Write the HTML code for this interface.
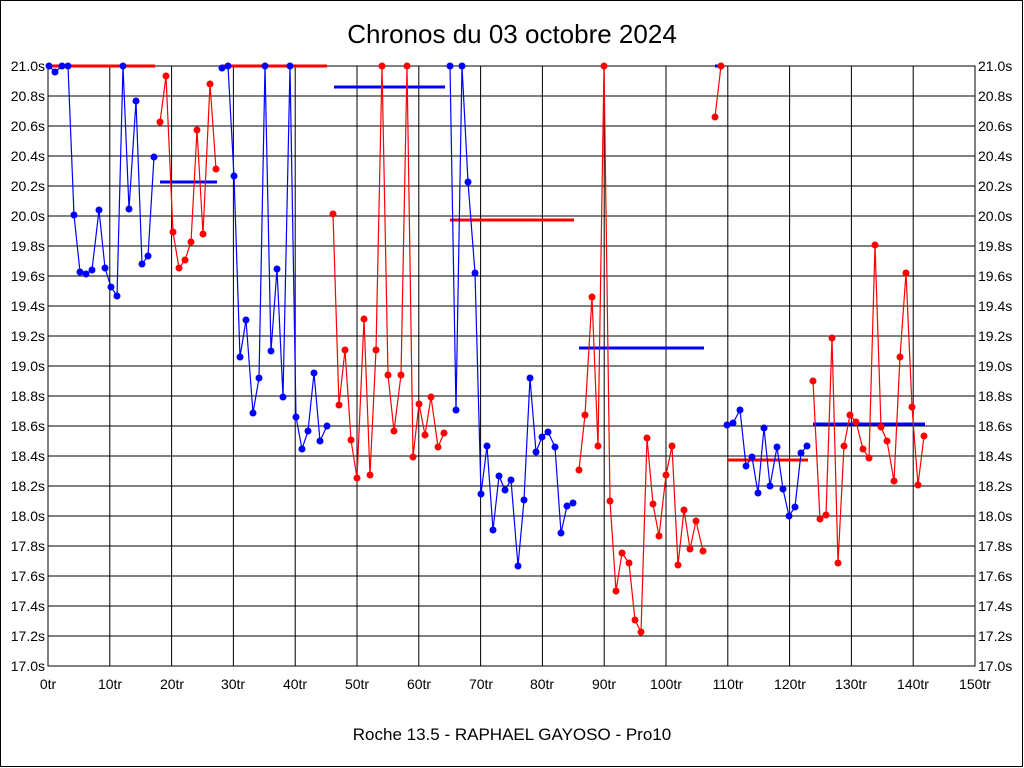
<!DOCTYPE html>
<html><head><meta charset="utf-8"><style>
html,body{margin:0;padding:0;background:#fff}
svg{display:block}
text{font-family:"Liberation Sans",sans-serif;fill:#000}
</style></head><body>
<svg id="s" width="1024" height="768" viewBox="0 0 1024 768" xmlns="http://www.w3.org/2000/svg">
<rect x="0.5" y="0.5" width="1022" height="766" fill="#fff" stroke="#000" stroke-width="1"/>
<text x="512" y="43" font-size="26" text-anchor="middle">Chronos du 03 octobre 2024</text>
<text x="512" y="740" font-size="17" text-anchor="middle">Roche 13.5 - RAPHAEL GAYOSO - Pro10</text>
<g stroke="#000" stroke-width="1" fill="none">
<path d="M109.8 66V666M171.6 66V666M233.4 66V666M295.2 66V666M357 66V666M418.8 66V666M480.6 66V666M542.4 66V666M604.2 66V666M666 66V666M727.8 66V666M789.6 66V666M851.4 66V666M913.2 66V666
M48 96H975M48 126H975M48 156H975M48 186H975M48 216H975M48 246H975M48 276H975M48 306H975M48 336H975M48 366H975M48 396H975M48 426H975M48 456H975M48 486H975M48 516H975M48 546H975M48 576H975M48 606H975M48 636H975"/>
<rect x="48" y="66" width="927" height="600"/>
</g>
<g font-size="14" text-anchor="end">
<text x="45" y="71">21.0s</text><text x="45" y="101">20.8s</text><text x="45" y="131">20.6s</text><text x="45" y="161">20.4s</text><text x="45" y="191">20.2s</text><text x="45" y="221">20.0s</text><text x="45" y="251">19.8s</text><text x="45" y="281">19.6s</text><text x="45" y="311">19.4s</text><text x="45" y="341">19.2s</text><text x="45" y="371">19.0s</text><text x="45" y="401">18.8s</text><text x="45" y="431">18.6s</text><text x="45" y="461">18.4s</text><text x="45" y="491">18.2s</text><text x="45" y="521">18.0s</text><text x="45" y="551">17.8s</text><text x="45" y="581">17.6s</text><text x="45" y="611">17.4s</text><text x="45" y="641">17.2s</text><text x="45" y="671">17.0s</text>
</g>
<g font-size="14" text-anchor="start">
<text x="978" y="71">21.0s</text><text x="978" y="101">20.8s</text><text x="978" y="131">20.6s</text><text x="978" y="161">20.4s</text><text x="978" y="191">20.2s</text><text x="978" y="221">20.0s</text><text x="978" y="251">19.8s</text><text x="978" y="281">19.6s</text><text x="978" y="311">19.4s</text><text x="978" y="341">19.2s</text><text x="978" y="371">19.0s</text><text x="978" y="401">18.8s</text><text x="978" y="431">18.6s</text><text x="978" y="461">18.4s</text><text x="978" y="491">18.2s</text><text x="978" y="521">18.0s</text><text x="978" y="551">17.8s</text><text x="978" y="581">17.6s</text><text x="978" y="611">17.4s</text><text x="978" y="641">17.2s</text><text x="978" y="671">17.0s</text>
</g>
<g font-size="14" text-anchor="middle">
<text x="48" y="689">0tr</text><text x="110" y="689">10tr</text><text x="172" y="689">20tr</text><text x="233" y="689">30tr</text><text x="295" y="689">40tr</text><text x="357" y="689">50tr</text><text x="419" y="689">60tr</text><text x="481" y="689">70tr</text><text x="542" y="689">80tr</text><text x="604" y="689">90tr</text><text x="666" y="689">100tr</text><text x="728" y="689">110tr</text><text x="790" y="689">120tr</text><text x="851" y="689">130tr</text><text x="913" y="689">140tr</text><text x="975" y="689">150tr</text>
</g>
<g stroke-width="3">
<path stroke="#f00" d="M49 66H155M222 66H327M450 220H574M727 460H808"/>
<path stroke="#00f" d="M160 182H217M334 87H445M579 348H704M813 424H925M715 66H721"/>
</g>
<g id="data"></g>
</svg>
<script>
var B="#00f",R="#f00";
var segs=[
[B,[[49,66],[55,72],[62,66],[68,66],[74,215],[80,272],[86,274],[92,270],[99,210],[105,268],[111,287],[117,296],[123,66],[129,209],[136,101],[142,264],[148,256],[154,157]]],
[R,[[160,122],[166,76],[173,232],[179,268],[185,260],[191,242],[197,130],[203,234],[210,84],[216,169]]],
[B,[[222,68],[228,66],[234,176],[240,357],[246,320],[253,413],[259,378],[265,66],[271,351],[277,269],[283,397],[290,66],[296,417],[302,449],[308,431],[314,373],[320,441],[327,426]]],
[R,[[333,214],[339,405],[345,350],[351,440],[357,478],[364,319],[370,475],[376,350],[382,66],[388,375],[394,431],[401,375],[407,66],[413,457],[419,404],[425,435],[431,397],[438,447],[444,433]]],
[B,[[450,66],[456,410],[462,66],[468,182],[475,273],[481,494],[487,446],[493,530],[499,476],[505,490],[511,480],[518,566],[524,500],[530,378],[536,452],[542,437],[548,432],[555,447],[561,533],[567,506],[573,503]]],
[R,[[579,470],[585,415],[592,297],[598,446],[604,66],[610,501],[616,591],[622,553],[629,563],[635,620],[641,632],[647,438],[653,504],[659,536],[666,475],[672,446],[678,565],[684,510],[690,549],[696,521],[703,551]]],
[R,[[715,117],[721,66]]],
[B,[[727,425],[733,423],[740,410],[746,466],[752,457],[758,493],[764,428],[770,486],[777,447],[783,489],[789,516],[795,507],[801,453],[807,446]]],
[R,[[813,381],[820,519],[826,515],[832,338],[838,563],[844,446],[850,415],[856,422],[863,449],[869,458],[875,245],[881,427],[887,441],[894,481],[900,357],[906,273],[912,407],[918,485],[924,436]]]
];
var g=document.getElementById("data"),h="";
segs.forEach(function(s){
 var d="";s[1].forEach(function(p,i){d+=(i?"L":"M")+p[0]+" "+p[1];});
 h+='<path d="'+d+'" fill="none" stroke="'+s[0]+'" stroke-width="1.2"/>';
 s[1].forEach(function(p){h+='<circle cx="'+p[0]+'" cy="'+p[1]+'" r="3.5" fill="'+s[0]+'"/>';});
});
g.innerHTML=h;
</script>
</body></html>
